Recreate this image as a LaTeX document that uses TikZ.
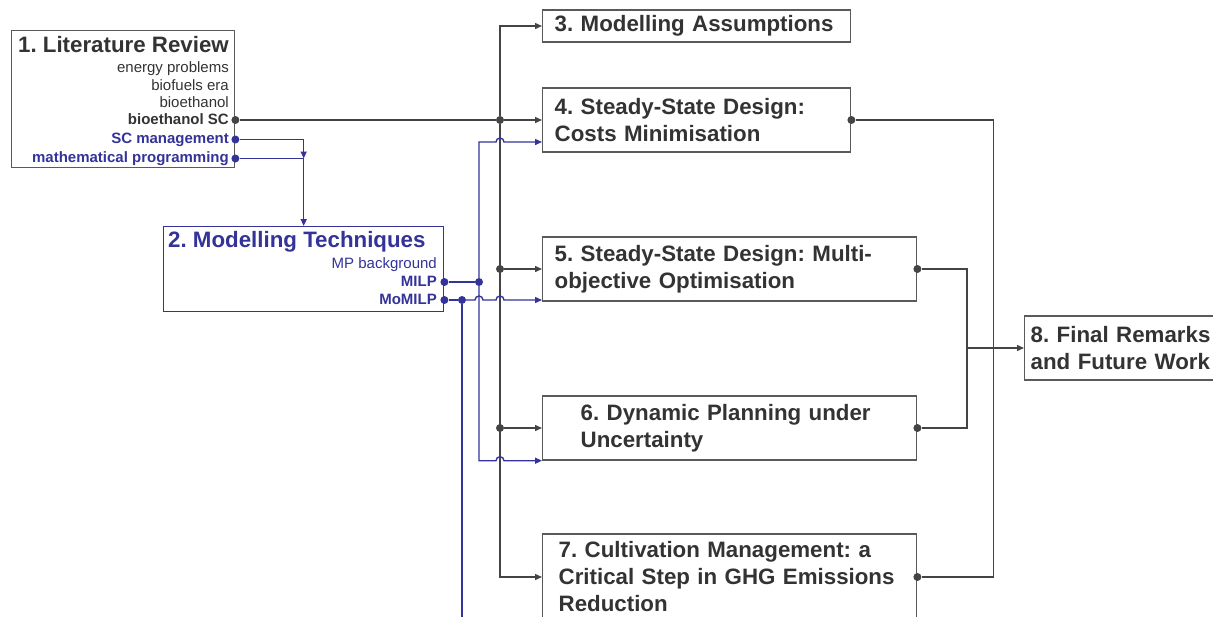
\documentclass[tikz,border=0pt]{standalone}
\usepackage{fontspec}
\setmainfont{Liberation Sans}
\usetikzlibrary{arrows.meta}
\frenchspacing

\definecolor{inkgray}{HTML}{333333}
\definecolor{linegray}{HTML}{444444}
\definecolor{boxgray}{HTML}{5A5A5A}
\definecolor{mpblue}{HTML}{333399}

\newcommand{\chapfont}{\fontsize{22.3}{27}\selectfont\bfseries}
\newcommand{\itemfont}{\fontsize{15}{18}\selectfont}

\begin{document}
\begin{tikzpicture}[
    x=1pt, y=-1pt,
    chapter/.style={draw=boxgray, line width=1.4pt, text=inkgray, font=\chapfont,
        align=left, anchor=west, minimum height=64pt, inner xsep=12pt, inner ysep=0pt},
    topic/.style={anchor=base east, inner sep=0pt, font=\itemfont,
        text height=11pt, text depth=3pt},
    jdot/.style={circle, fill=linegray, inner sep=0pt, minimum size=8pt},
    bdot/.style={jdot, fill=mpblue},
    link/.style={draw=linegray, line width=1.4pt},
    blink/.style={draw=mpblue, line width=1.4pt},
    into/.style={-{Triangle[length=7pt,width=6pt]}},
]
\useasboundingbox (0,0) rectangle (1213,616);

% literature review
\node[draw=boxgray, line width=1.4pt, anchor=north west,
      minimum width=223pt, minimum height=137pt] (lit) at (11,30) {};
\node[anchor=base east, inner sep=0pt, font=\chapfont, text=inkgray] at (229,52) {1. Literature Review};
\foreach \t/\y in {energy problems/72, biofuels era/90, bioethanol/107}
    \node[topic, text=inkgray] at (229,\y) {\t};
\node[topic, text=inkgray, font=\itemfont\bfseries] (bsc) at (229,124) {bioethanol SC};
\node[topic, text=mpblue, font=\itemfont\bfseries] (scm) at (229,143.5) {SC management};
\node[topic, text=mpblue, font=\itemfont\bfseries] (mp) at (229,162.5) {mathematical programming};

% modelling techniques
\node[draw=mpblue, line width=1.4pt, anchor=north west,
      minimum width=280pt, minimum height=85pt] (tech) at (163,226) {};
\node[anchor=base west, inner sep=0pt, font=\chapfont, text=mpblue] at (168,247) {2. Modelling Techniques};
\node[topic, text=mpblue] at (437,268) {MP background};
\node[topic, text=mpblue, font=\itemfont\bfseries] (milp) at (437,286) {MILP};
\node[topic, text=mpblue, font=\itemfont\bfseries] (momilp) at (437,304) {MoMILP};

% chapters
\node[chapter, text width=284pt, minimum height=32pt] (s3) at (542,26) {3. Modelling Assumptions};
\node[chapter, text width=284pt] (s4) at (542,120) {4. Steady-State Design:\\Costs Minimisation};
\node[chapter, text width=350pt] (s5) at (542,269) {5. Steady-State Design: Multi-\\objective Optimisation};
\node[chapter, text width=298pt, inner xsep=38pt] (s6) at (542,428) {6. Dynamic Planning under\\Uncertainty};
\node[chapter, text width=342pt, inner xsep=16pt, minimum height=86pt] (s7) at (542,577)
    {7. Cultivation Management: a\\Critical Step in GHG Emissions\\Reduction};
\node[chapter, text width=190pt, inner xsep=6pt] (s8) at (1024,348) {8. Final Remarks\\and Future Work};

% black spine
\node[jdot] (o1) at (lit.east |- bsc) {};
\node[jdot] (bus) at (500,0 |- o1) {};
\node[jdot] (j5) at (bus |- s5.west) {};
\node[jdot] (j6) at (bus |- s6.west) {};
\draw[link] (o1) -- (bus);
\draw[link, into] (bus) -- (s4.west);
\draw[link, into] (bus) |- (s3.west);
\draw[link, into] (bus) |- (s7.west);
\draw[link, into] (j5) -- (s5.west);
\draw[link, into] (j6) -- (s6.west);

% blue links
\node[bdot] (o2) at (lit.east |- scm) {};
\node[bdot] (o3) at (lit.east |- mp) {};
\draw[blink, into] (o2) -| (tech.north |- o3);
\draw[blink, into] (o3) -| (tech.north);

\node[bdot] (o4) at (tech.east |- milp) {};
\node[bdot] (o5) at (tech.east |- momilp) {};
\node[bdot] (j4) at (479,0 |- o4) {};
\node[bdot] (j7) at (462,0 |- o5) {};
\coordinate (s4e) at ([yshift=-22pt]s4.west);
\coordinate (low) at (j7 |- 0,650);
\draw[blink] (o4) -- (j4);
\draw[blink] (o5) -- (j7);
\draw[blink] (j7) -- (low);
\draw[blink, into] (j4) |- ([xshift=-4pt]bus |- s4e)
    arc[start angle=180, end angle=0, radius=4pt] -- (s4e);
\draw[blink, into] (j4) |- ([xshift=-4pt]bus |- s6.south west)
    arc[start angle=180, end angle=0, radius=4pt] -- (s6.south west);
\draw[blink, into] (j7) -- ([xshift=-4pt]j4 |- o5)
    arc[start angle=180, end angle=0, radius=4pt] -- ([xshift=-4pt]bus |- o5)
    arc[start angle=180, end angle=0, radius=4pt] -- (s5.west |- o5);

% outputs
\node[jdot] (p4) at (s4.east) {};
\node[jdot] (p5) at (s5.east) {};
\node[jdot] (p6) at (s6.east) {};
\node[jdot] (p7) at (s7.east) {};
\coordinate (m8) at ([xshift=-57pt]s8.west);
\draw[link] (p4) -- ++(142,0) |- (p7);
\draw[link, into] (p5) -| (m8) -- (s8.west);
\draw[link] (p6) -| (m8);
\end{tikzpicture}
\end{document}
